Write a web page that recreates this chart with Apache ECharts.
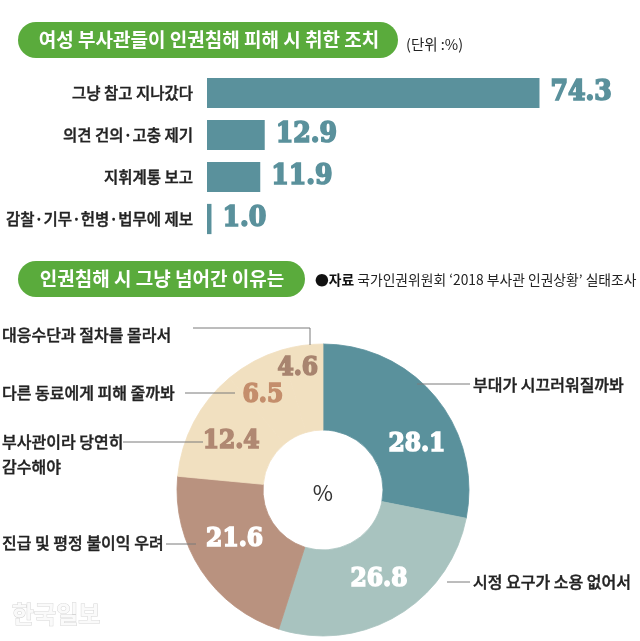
<!DOCTYPE html>
<html>
<head>
<meta charset="utf-8">
<script src="https://cdn.jsdelivr.net/npm/echarts@6/dist/echarts.min.js"></script>
<style>
html,body{margin:0;padding:0;background:#fff;}
#chart{width:640px;height:641px;}
</style>
</head>
<body>
<div id="chart"></div>
<script>
// ---- data ----
const actionCategories = ['그냥 참고 지나갔다', '의견 건의·고충 제기', '지휘계통 보고', '감찰·기무·헌병·법무에 제보'];
const actionValues = [74.3, 12.9, 11.9, 1.0];

const reasonNames = ['부대가 시끄러워질까봐', '시정 요구가 소용 없어서', '진급 및 평정 불이익 우려', '부사관이라 당연히\n감수해야', '다른 동료에게 피해 줄까봐', '대응수단과 절차를 몰라서'];
const reasonValues = [28.1, 26.8, 21.6, 12.4, 6.5, 4.6];

const title1 = '여성 부사관들이 인권침해 피해 시 취한 조치';
const unitText = '(단위 :%)';
const title2 = '인권침해 시 그냥 넘어간 이유는';
const sourceBold = '●자료';
const sourceText = ' 국가인권위원회 ‘2018 부사관 인권상황’ 실태조사';
const centerText = '%';
const watermark = '한국일보';

// ---- styles ----
const KR = '"Noto Sans CJK KR", "Noto Sans", sans-serif';
const NUM = '"DejaVu Serif Condensed", "DejaVu Serif", serif';
const TEAL = '#5a919c';
const sliceColors = ['#5a919c', '#a8c3bf', '#b9927f', '#f1e0c0', '#f1e0c0', '#f1e0c0'];
const sliceLabelColors = ['#ffffff', '#ffffff', '#ffffff', '#b08872', '#c48e6c', '#a8846f'];
const sliceLabelOffsets = [[12, 22], [2, -2], [0, -9], [2, 1], [-10, -1], [-10, -17]];
const callouts = [
  {x: 473, y: 385, line: [[417, 384], [444, 384], [470, 384]]},
  {x: 473, y: 582, line: [[447, 582], [460, 582], [470, 582]]},
  {x: 2, y: 543, line: [[196, 544], [180, 544], [166, 544]]},
  {x: 2, y: 454.5, line: [[203, 442], [160, 442], [123, 442]]},
  {x: 2, y: 393, line: [[235, 393], [210, 393], [185, 393]]},
  {x: 2, y: 335, line: [[310, 345], [310, 328], [193, 328]]}
];

const chart = echarts.init(document.getElementById('chart'), null, {renderer: 'canvas'});

const option = {
  backgroundColor: '#ffffff',
  animation: false,
  grid: {left: 207, right: 75, top: 72, height: 168, containLabel: false},
  xAxis: {type: 'value', min: 0, max: 80, show: false},
  yAxis: {
    type: 'category', data: actionCategories, inverse: true,
    axisLine: {show: false}, axisTick: {show: false}, splitLine: {show: false},
    axisLabel: {margin: 14, color: '#222', fontSize: 15.5, fontFamily: KR, fontWeight: 500,
      textBorderColor: '#222', textBorderWidth: 0.4}
  },
  series: [
    {
      type: 'bar', data: actionValues, barCategoryGap: '28%',
      itemStyle: {color: TEAL},
      label: {
        show: true, position: 'right', distance: 11,
        color: TEAL, fontFamily: NUM, fontWeight: 'bold', fontSize: 28,
        textBorderColor: TEAL, textBorderWidth: 1.6,
        formatter: p => p.value.toFixed(1)
      }
    },
    {
      type: 'pie', center: [323, 490], radius: [60, 146], startAngle: 90, clockwise: true,
      avoidLabelOverlap: false, silent: true,
      data: reasonValues.map((v, i) => ({
        value: v, name: reasonNames[i],
        itemStyle: {color: sliceColors[i], borderColor: sliceColors[i], borderWidth: 0.8},
        label: {color: sliceLabelColors[i], textBorderColor: sliceLabelColors[i], offset: sliceLabelOffsets[i]}
      })),
      label: {
        show: true, position: 'inside', fontFamily: NUM, fontWeight: 'bold', fontSize: 26,
        textBorderWidth: 1.5,
        formatter: p => p.value.toFixed(1)
      },
      labelLine: {show: false}
    },
    {
      type: 'pie', center: [323, 490], radius: [60, 146], startAngle: 90, clockwise: true,
      avoidLabelOverlap: false, silent: true, z: 3,
      data: reasonValues.map((v, i) => ({value: v, name: reasonNames[i]})),
      itemStyle: {color: 'rgba(0,0,0,0)', borderWidth: 0},
      label: {
        show: true, position: 'outside', color: '#222', fontFamily: KR, fontSize: 16,
        fontWeight: 500, lineHeight: 25, textBorderColor: '#222', textBorderWidth: 0.4,
        formatter: p => p.name
      },
      labelLine: {show: true, lineStyle: {color: '#7a7a7a', width: 1}},
      labelLayout: p => {
        const c = callouts[p.dataIndex];
        return {x: c.x, y: c.y, align: 'left', verticalAlign: 'middle', labelLinePoints: c.line};
      }
    }
  ],
  graphic: [
    {type: 'rect', shape: {x: 18, y: 22, width: 380, height: 36, r: 18}, style: {fill: '#5aab3c'}},
    {type: 'text', x: 209, y: 40, style: {text: title1, fill: '#fff', font: 'bold 19px ' + KR, align: 'center', verticalAlign: 'middle'}},
    {type: 'text', x: 406, y: 44, style: {text: unitText, fill: '#222', font: '14.5px ' + KR, verticalAlign: 'middle'}},
    {type: 'rect', shape: {x: 18, y: 261, width: 287, height: 36, r: 18}, style: {fill: '#5aab3c'}},
    {type: 'text', x: 162, y: 279, style: {text: title2, fill: '#fff', font: 'bold 19px ' + KR, align: 'center', verticalAlign: 'middle'}},
    {type: 'text', x: 315, y: 280, style: {
      text: '{b|' + sourceBold + '}{r|' + sourceText + '}', verticalAlign: 'middle',
      rich: {b: {fontFamily: KR, fontWeight: 'bold', fontSize: 13.8, fill: '#111'}, r: {fontFamily: KR, fontSize: 13.8, fill: '#222'}}
    }},
    {type: 'text', x: 323, y: 493, style: {text: centerText, fill: '#333', font: '22px ' + KR, align: 'center', verticalAlign: 'middle'}},
    {type: 'text', x: 12, y: 614, style: {text: watermark, fill: '#fafafa', stroke: '#d6d6d6', lineWidth: 1, font: 'bold 24px ' + KR, verticalAlign: 'middle'}}
  ]
};
chart.setOption(option);
</script>
</body>
</html>
